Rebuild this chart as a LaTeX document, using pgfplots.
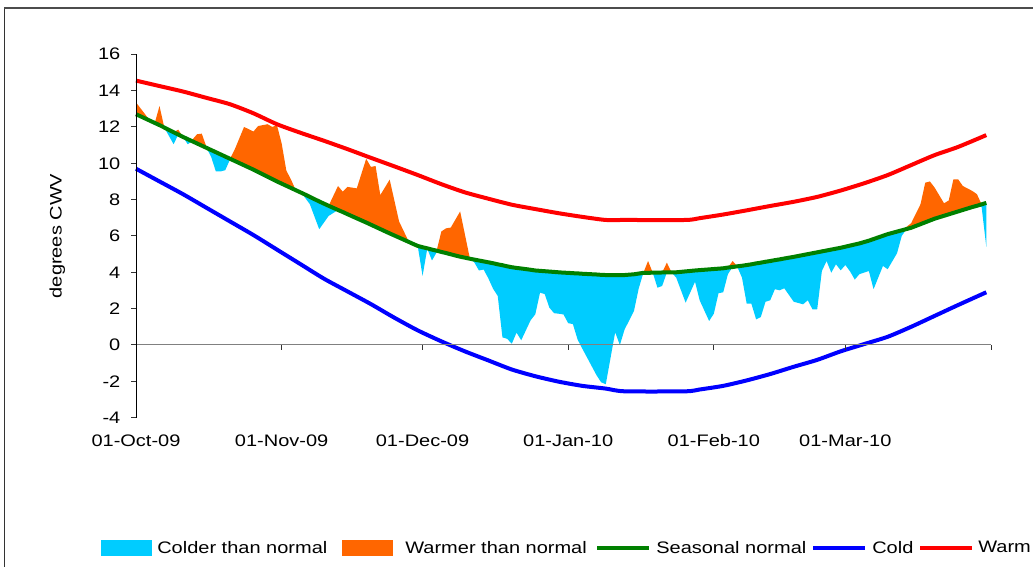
\documentclass[border=0pt]{standalone}
\usepackage{pgfplots}
\pgfplotsset{compat=1.18}
\usepackage{pgfplotstable}
\usepgfplotslibrary{fillbetween}
\usepackage{fontspec}
\setmainfont{Liberation Sans}[FakeStretch=1.2]

\definecolor{colder}{HTML}{00CCFF}
\definecolor{warmer}{HTML}{FF6600}
\definecolor{normalc}{HTML}{008000}
\definecolor{coldc}{HTML}{0000FF}
\definecolor{warmc}{HTML}{FF0000}

% day index (0 = 1 Oct 2009), seasonal normal, observed
\pgfplotstableread{
d nor act
0 12.70 13.35
3 12.34 12.30
4 12.22 12.10
5 12.10 13.15
6 11.97 12.00
8 11.71 11.05
9 11.58 11.85
10 11.45 11.45
11 11.33 11.05
12 11.21 11.30
13 11.09 11.60
14 10.97 11.63
15 10.85 10.90
16 10.73 10.35
17 10.61 9.55
18 10.49 9.55
19 10.37 9.62
20 10.25 10.20
21 10.13 10.75
23 9.89 12.00
25 9.65 11.75
26 9.52 12.05
28 9.26 12.15
29 9.13 12.00
30 9.00 12.10
31 8.88 11.10
32 8.76 9.60
33 8.64 9.10
34 8.52 8.50
35 8.40 8.40
36 8.28 8.10
37 8.15 7.75
39 7.90 6.37
41 7.66 7.10
43 7.43 8.75
44 7.32 8.44
45 7.20 8.70
47 6.97 8.62
49 6.74 10.25
50 6.62 9.80
51 6.50 9.85
52 6.38 8.25
54 6.14 9.10
56 5.91 6.80
58 5.68 5.72
59 5.56 5.50
60 5.45 5.40
61 5.38 3.80
62 5.32 5.30
63 5.25 4.65
64 5.19 5.10
65 5.12 6.25
66 5.06 6.42
67 4.99 6.46
69 4.86 7.35
71 4.75 4.85
72 4.70 4.55
73 4.65 4.10
74 4.60 4.15
75 4.55 3.67
76 4.50 3.10
77 4.44 2.70
78 4.39 0.42
79 4.33 0.34
80 4.28 0.07
81 4.24 0.68
82 4.21 0.26
84 4.14 1.36
85 4.10 1.69
86 4.08 2.88
87 4.06 2.80
88 4.04 2.05
89 4.02 1.75
90 4.00 1.72
91 3.98 1.68
92 3.97 1.20
93 3.95 1.15
94 3.94 0.30
95 3.92 -0.20
98 3.88 -1.65
99 3.86 -2.05
100 3.85 -2.16
102 3.85 0.70
103 3.85 0.00
104 3.85 0.85
106 3.89 1.87
107 3.93 3.10
108 3.97 3.97
109 3.97 4.62
110 3.98 3.98
111 3.98 3.15
112 3.99 3.25
113 3.99 4.53
114 4.00 4.00
115 4.00 3.70
117 4.05 2.33
119 4.10 3.48
120 4.12 2.45
122 4.16 1.32
123 4.18 1.72
124 4.20 2.85
125 4.22 2.90
126 4.26 3.90
127 4.29 4.62
128 4.33 4.30
129 4.36 3.70
130 4.40 2.27
131 4.44 2.27
132 4.49 1.41
133 4.53 1.54
134 4.58 2.38
135 4.62 2.46
136 4.67 3.07
137 4.71 3.01
138 4.76 3.12
140 4.85 2.38
142 4.95 2.24
143 5.00 2.46
144 5.05 1.96
145 5.10 1.96
146 5.15 4.07
147 5.20 4.62
148 5.25 3.98
149 5.30 4.44
150 5.35 4.11
151 5.41 4.40
152 5.47 4.05
153 5.53 3.60
154 5.59 3.90
156 5.74 4.07
157 5.83 3.07
159 6.01 4.35
160 6.10 4.17
162 6.24 5.05
163 6.31 6.00
164 6.38 6.50
165 6.45 6.70
167 6.65 7.75
168 6.75 8.93
169 6.85 9.00
170 6.95 8.66
172 7.11 7.80
173 7.19 7.95
174 7.27 9.12
175 7.35 9.12
176 7.43 8.75
178 7.59 8.48
179 7.66 8.30
180 7.74 7.60
181 7.82 5.40
}\obs
% upper and lower envelopes against the normal
\pgfplotstablecreatecol[create col/expr={max(\thisrow{act},\thisrow{nor})}]{hi}\obs
\pgfplotstablecreatecol[create col/expr={min(\thisrow{act},\thisrow{nor})}]{lo}\obs

% warm and cold limits
\pgfplotstableread{
d warm cold
0 14.55 9.70
5 14.25 9.00
10 13.95 8.30
15 13.60 7.55
20 13.25 6.80
25 12.75 6.05
30 12.15 5.25
35 11.68 4.45
40 11.24 3.65
45 10.78 2.95
50 10.30 2.25
55 9.83 1.50
60 9.35 0.80
65 8.85 0.20
70 8.40 -0.35
75 8.05 -0.85
80 7.72 -1.35
85 7.48 -1.72
90 7.25 -2.02
95 7.05 -2.25
100 6.88 -2.40
104 6.88 -2.55
117 6.88 -2.55
120 6.98 -2.45
125 7.18 -2.25
130 7.41 -1.95
135 7.65 -1.60
140 7.88 -1.20
145 8.15 -0.82
150 8.50 -0.35
155 8.90 0.05
160 9.35 0.45
165 9.90 1.00
170 10.45 1.60
175 10.90 2.20
181 11.55 2.90
}\limtab

\newcommand{\chartfont}{\fontsize{12.5}{14}\selectfont}

\begin{document}
\begin{tikzpicture}
\begin{axis}[
  at={(102pt,112pt)}, anchor=south west,
  scale only axis, width=641.25pt, height=272.55pt,
  xmin=0, xmax=182, ymin=-4, ymax=16,
  axis x line*=middle, axis y line*=left,
  hide obscured x ticks=false,
  x axis line style={black!50, line width=0.75pt},
  y axis line style={black, line width=0.75pt},
  xtick={0,31,61,92,123,151,182},
  xticklabels={01-Oct-09,01-Nov-09,01-Dec-09,01-Jan-10,01-Feb-10,01-Mar-10,{}},
  ytick={-4,-2,0,2,4,6,8,10,12,14,16},
  yticklabels={-4,-2,0,2,4,6,8,10,12,14,16},
  tick align=outside, major tick length=3.75pt,
  tick style={black!80, line width=0.75pt},
  tick label style={font=\chartfont, black},
  xticklabel style={anchor=north, text height=9pt, text depth=2.5pt, yshift=-60pt},
  yticklabel style={xshift=-4.5pt},
  ylabel={degrees CWV},
  ylabel style={font=\chartfont, at={(axis description cs:-0.092,0.5)}, anchor=center},
  axis on top,
  clip=false,
  legend columns=5,
  legend cell align=left,
  legend style={at={(axis description cs:-0.0409,-0.3587)}, anchor=west,
    draw=none, fill=none, inner sep=0pt, font=\chartfont,
    nodes={inner sep=0pt}, column sep=0pt},
]
\addplot[name path=nor, draw=none, forget plot] table[x=d, y=nor] {\obs};
\addplot[name path=hi, draw=none, forget plot] table[x=d, y=hi] {\obs};
\addplot[name path=lo, draw=none, forget plot] table[x=d, y=lo] {\obs};

\addplot[fill=colder, draw=none,
  legend image code/.code={\fill[colder] (0pt,-6pt) rectangle (38.25pt,6pt);}]
  fill between[of=lo and nor];
\addlegendentry{\makebox[142.5pt][l]{\hspace{3.75pt}Colder than normal}}
\addplot[fill=warmer, draw=none,
  legend image code/.code={\fill[warmer] (0pt,-6pt) rectangle (38.25pt,6pt);}]
  fill between[of=hi and nor];
\addlegendentry{\makebox[153pt][l]{\hspace{9pt}Warmer than normal}}

\addplot[normalc, line width=3pt,
  legend image code/.code={\path[fill=normalc, draw=none] (0pt,-1.5pt) rectangle (39pt,1.5pt);}]
  table[x=d, y=nor] {\obs};
\addlegendentry{\makebox[123pt][l]{\hspace{5.25pt}Seasonal normal}}
\addplot[coldc, line width=3pt, smooth, tension=0.4,
  legend image code/.code={\path[fill=coldc, draw=none] (0pt,-1.5pt) rectangle (39pt,1.5pt);}]
  table[x=d, y=cold] {\limtab};
\addlegendentry{\makebox[41.25pt][l]{\hspace{5.25pt}Cold}}
\addplot[warmc, line width=3pt, smooth, tension=0.4,
  legend image code/.code={\path[fill=warmc, draw=none] (0pt,-1.5pt) rectangle (39pt,1.5pt);}]
  table[x=d, y=warm] {\limtab};
\addlegendentry{\makebox[38pt][l]{\hspace{4.5pt}Warm}}
\end{axis}
% outer chart frame
\draw[black!80, line width=0.75pt] (3pt,-30pt) -- (3pt,419.25pt);
\draw[black!70, line width=1.5pt] (3pt,419.25pt) -- (800pt,419.25pt);
\pgfresetboundingbox
\useasboundingbox (0,0) rectangle (774.75pt,425.25pt);
\end{tikzpicture}
\end{document}
